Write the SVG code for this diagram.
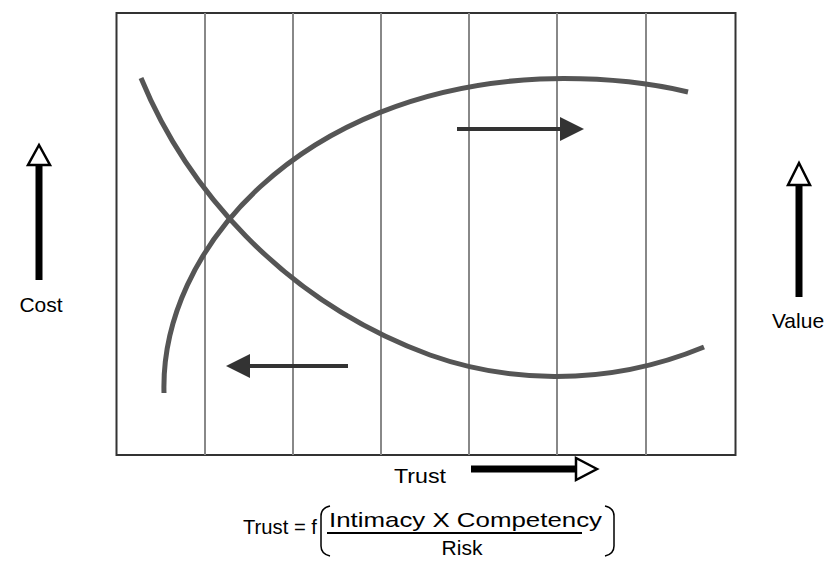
<svg xmlns="http://www.w3.org/2000/svg" width="825" height="561" viewBox="0 0 825 561">
<style>
.txt{font-family:"Liberation Sans",Arial,Helvetica,sans-serif;font-size:21px;fill:#000}
.grid{stroke:#888;stroke-width:2;fill:none}
.frame{stroke:#333;stroke-width:2;fill:none}
.curve{stroke:#555;stroke-width:5;fill:none}
.flow{stroke:#333;stroke-width:4;fill:none}
.axis{stroke:#000;stroke-width:7;fill:none}
.hollow{fill:#fff;stroke:#000;stroke-width:2.5}
.paren{stroke:#000;stroke-width:1.5;fill:none}
</style>
<defs>
<marker id="solid" markerWidth="6" markerHeight="6" refX="1" refY="3" orient="auto" markerUnits="strokeWidth">
<path d="M0,0 L6,3 L0,6 z" fill="#333"/>
</marker>
</defs>
<rect width="825" height="561" fill="#fff"/>
<g id="chart">
<rect class="frame" x="116.5" y="13" width="619" height="442"/>
<line class="grid" x1="205" y1="13" x2="205" y2="455"/>
<line class="grid" x1="293" y1="13" x2="293" y2="455"/>
<line class="grid" x1="381" y1="13" x2="381" y2="455"/>
<line class="grid" x1="469" y1="13" x2="469" y2="455"/>
<line class="grid" x1="557" y1="13" x2="557" y2="455"/>
<line class="grid" x1="646" y1="13" x2="646" y2="455"/>
</g>
<g id="cost-curve">
<path class="curve" d="M141,78 C185,185 280,300 430,355 C500,380 600,390 704,347"/>
</g>
<g id="value-curve">
<path class="curve" d="M164,393 C160,250 300,90 540,79 C600,77 650,83 688,92"/>
</g>
<g id="connectors">
<line class="flow" x1="457" y1="129" x2="564" y2="129" marker-end="url(#solid)"/>
<line class="flow" x1="348" y1="366" x2="246" y2="366" marker-end="url(#solid)"/>
</g>
<g id="cost-axis">
<line class="axis" x1="39" y1="280" x2="39" y2="163"/>
<path class="hollow" d="M39,145 L50,165 L28,165 z"/>
<text class="txt" x="41" y="312" text-anchor="middle">Cost</text>
</g>
<g id="value-axis">
<line class="axis" x1="799" y1="297" x2="799" y2="183"/>
<path class="hollow" d="M799,163 L810,185 L788,185 z"/>
<text class="txt" x="798" y="328" text-anchor="middle">Value</text>
</g>
<g id="trust-axis">
<line class="axis" x1="471" y1="469" x2="577" y2="469"/>
<path class="hollow" d="M597,469 L576,458 L576,480 z"/>
<text class="txt" x="394" y="483" textLength="52" lengthAdjust="spacingAndGlyphs">Trust</text>
</g>
<g id="formula">
<text class="txt" x="243" y="534" textLength="74" lengthAdjust="spacingAndGlyphs">Trust = f</text>
<path class="paren" d="M330,506 Q321,508 321,516 L321,546 Q321,554 330,556"/>
<path class="paren" d="M605,506 Q614,508 614,516 L614,546 Q614,554 605,556"/>
<text class="txt" x="329" y="527" textLength="273" lengthAdjust="spacingAndGlyphs">Intimacy X Competency</text>
<line x1="327" y1="533" x2="582" y2="533" stroke="#000" stroke-width="2"/>
<text class="txt" x="462" y="555" text-anchor="middle">Risk</text>
</g>
</svg>
